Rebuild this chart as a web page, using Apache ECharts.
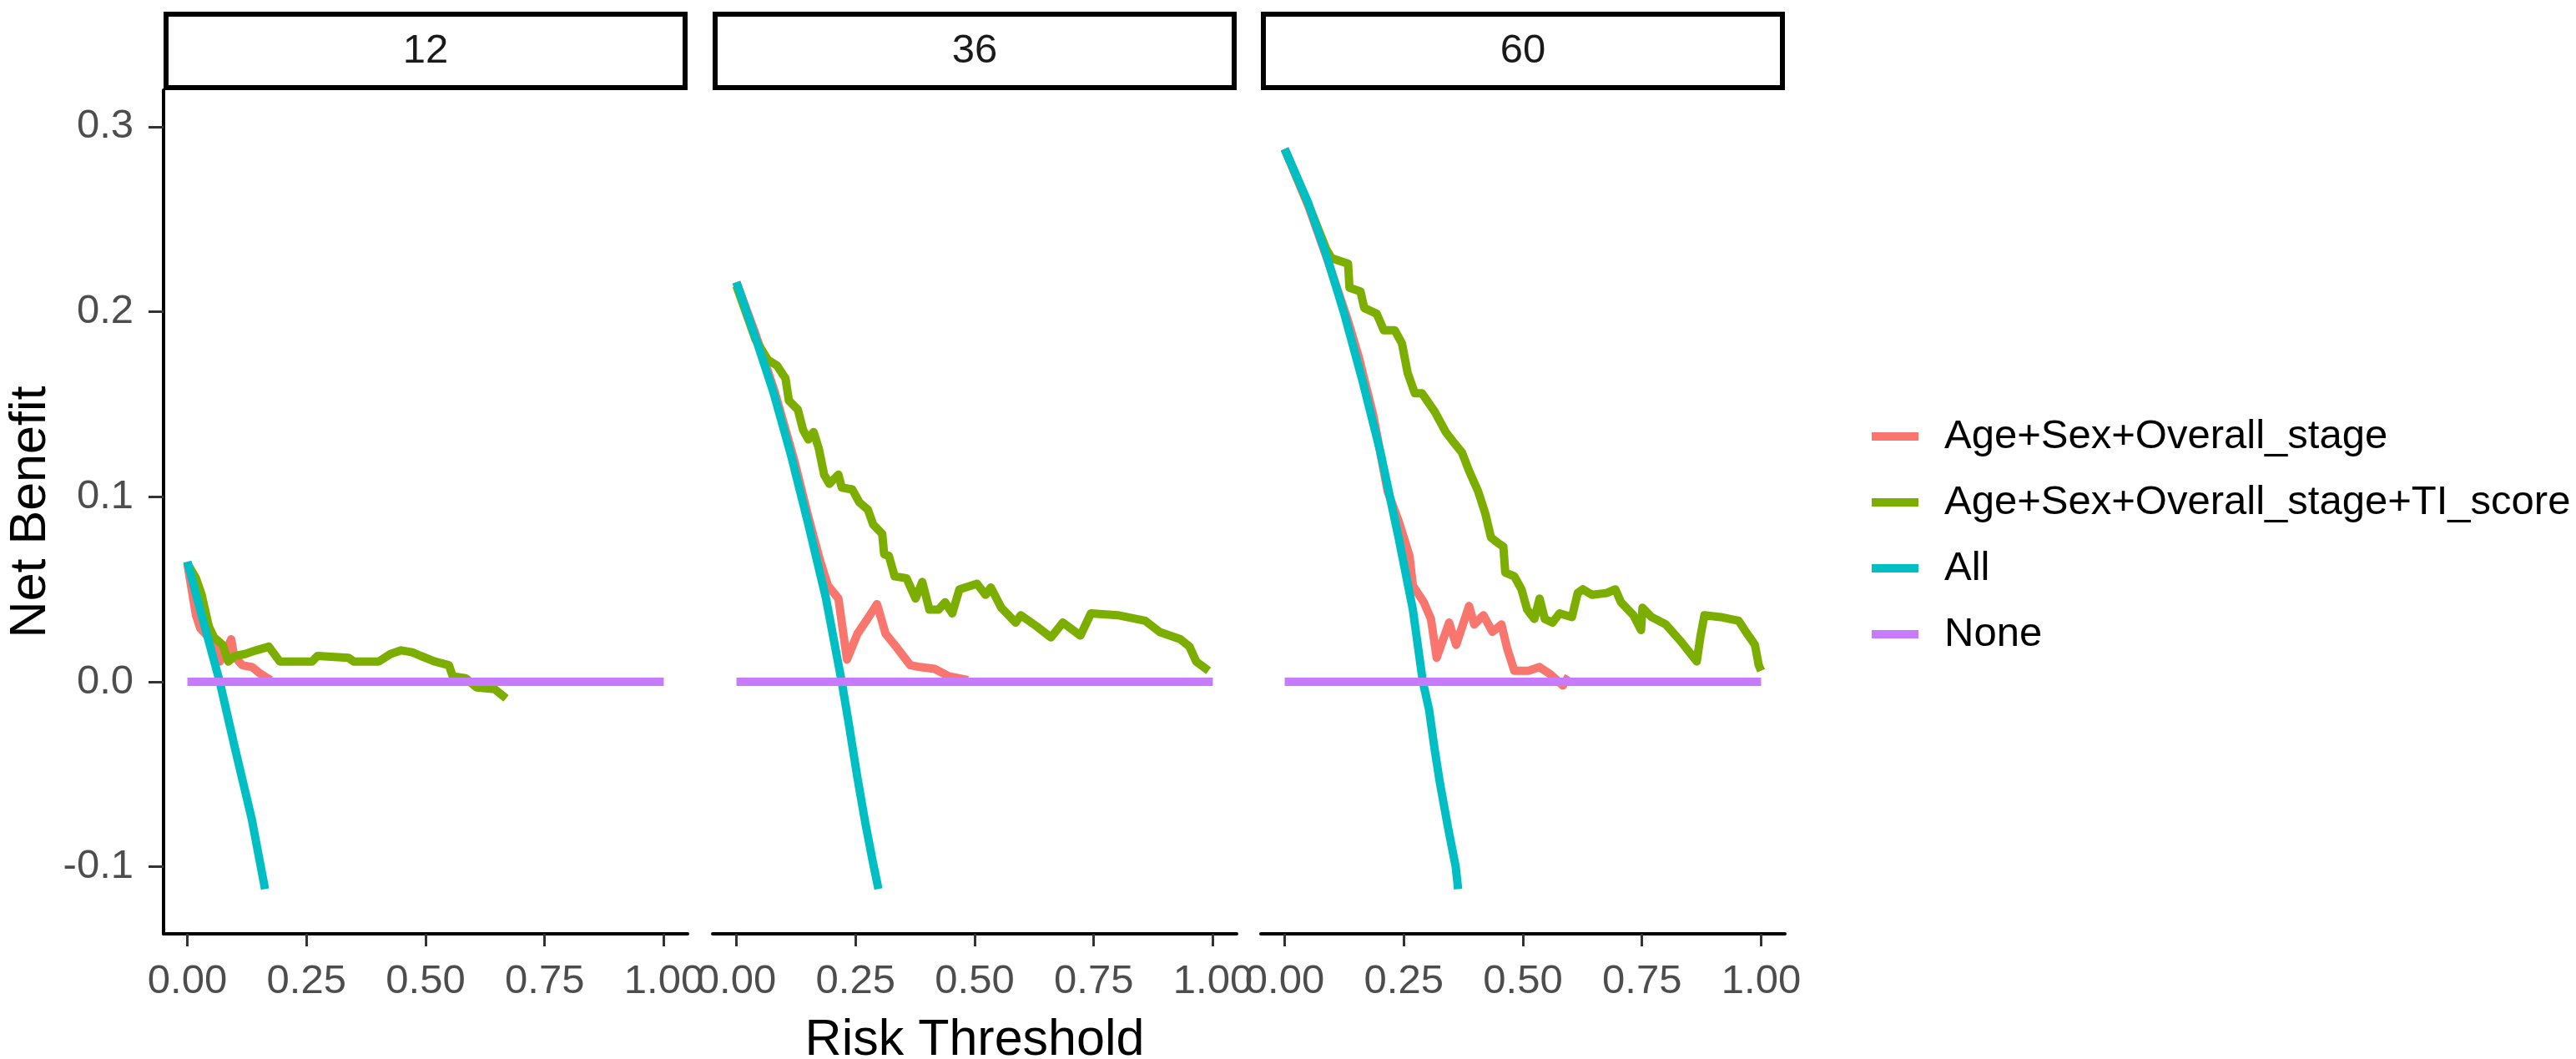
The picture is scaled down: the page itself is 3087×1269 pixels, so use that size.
<!DOCTYPE html>
<html>
<head>
<meta charset="utf-8">
<title>Decision curves</title>
<script src="https://cdn.jsdelivr.net/npm/echarts@6.0.0/dist/echarts.min.js"></script>
<style>
  html, body { margin: 0; padding: 0; background: #fff; }
  #main { width: 3087px; height: 1269px; }
</style>
</head>
<body>
<div id="main"></div>
<script>
// ---- data (risk threshold, net benefit) ----
var timePoints = ['12', '36', '60'];
var seriesNames = ['Age+Sex+Overall_stage', 'Age+Sex+Overall_stage+TI_score', 'All', 'None'];
var seriesColors = ['#F8766D', '#7CAE00', '#00BFC4', '#C77CFF'];
var xTicks = [0, 0.25, 0.5, 0.75, 1];
var yTicks = [-0.1, 0, 0.1, 0.2, 0.3];

// 12 months
var base12 = [[0, 0.064], [0.018, 0.036], [0.027, 0.029], [0.045, 0.024], [0.059, 0.020], [0.068, 0.011],
  [0.08, 0.016], [0.092, 0.023], [0.098, 0.014], [0.115, 0.009], [0.136, 0.008], [0.150, 0.005], [0.168, 0.002], [0.175, 0.001]];
var full12 = [[0, 0.064], [0.018, 0.056], [0.030, 0.047], [0.045, 0.030], [0.056, 0.024], [0.074, 0.020], [0.086, 0.011],
  [0.100, 0.014], [0.121, 0.015], [0.144, 0.017], [0.171, 0.019], [0.194, 0.011], [0.215, 0.011], [0.262, 0.011],
  [0.273, 0.014], [0.338, 0.013], [0.349, 0.011], [0.402, 0.011], [0.426, 0.015], [0.449, 0.017], [0.472, 0.016],
  [0.490, 0.014], [0.519, 0.011], [0.549, 0.009], [0.557, 0.003], [0.584, 0.002], [0.607, -0.003], [0.645, -0.004], [0.669, -0.009]];
var all12 = [[0, 0.065], [0.03, 0.036], [0.068, 0], [0.10, -0.036], [0.135, -0.074], [0.163, -0.112]];

// 36 months
var base36 = [[0, 0.216], [0.04, 0.188], [0.08, 0.157], [0.12, 0.121], [0.15, 0.090], [0.175, 0.066], [0.192, 0.052],
  [0.214, 0.045], [0.232, 0.012], [0.254, 0.026], [0.275, 0.034], [0.295, 0.042], [0.313, 0.026], [0.335, 0.019],
  [0.365, 0.009], [0.385, 0.008], [0.416, 0.007], [0.446, 0.003], [0.486, 0.001]];
var full36 = [[0, 0.214], [0.04, 0.185], [0.066, 0.174], [0.085, 0.171], [0.103, 0.164], [0.11, 0.152], [0.129, 0.147],
  [0.14, 0.136], [0.151, 0.131], [0.162, 0.135], [0.173, 0.126], [0.184, 0.112], [0.195, 0.107], [0.214, 0.112],
  [0.221, 0.105], [0.243, 0.104], [0.258, 0.097], [0.276, 0.093], [0.287, 0.085], [0.306, 0.080], [0.31, 0.069],
  [0.32, 0.068], [0.332, 0.057], [0.357, 0.056], [0.376, 0.045], [0.39, 0.054], [0.405, 0.039], [0.424, 0.039],
  [0.438, 0.043], [0.453, 0.037], [0.468, 0.050], [0.505, 0.053], [0.523, 0.047], [0.534, 0.051], [0.556, 0.040],
  [0.586, 0.032], [0.597, 0.036], [0.63, 0.030], [0.66, 0.024], [0.685, 0.032], [0.722, 0.025], [0.744, 0.037],
  [0.80, 0.036], [0.858, 0.033], [0.888, 0.027], [0.932, 0.023], [0.951, 0.019], [0.965, 0.011], [0.991, 0.006]];
var all36 = [[0, 0.216], [0.04, 0.186], [0.077, 0.157], [0.114, 0.123], [0.151, 0.085], [0.188, 0.045], [0.221, 0],
  [0.236, -0.023], [0.254, -0.052], [0.271, -0.077], [0.286, -0.097], [0.298, -0.112]];

// 60 months
var base60 = [[0, 0.288], [0.05, 0.257], [0.09, 0.228], [0.133, 0.195], [0.155, 0.176], [0.186, 0.144], [0.216, 0.103],
  [0.239, 0.087], [0.262, 0.068], [0.269, 0.052], [0.292, 0.043], [0.307, 0.034], [0.319, 0.013], [0.345, 0.032],
  [0.36, 0.020], [0.387, 0.041], [0.398, 0.031], [0.417, 0.036], [0.436, 0.027], [0.455, 0.031], [0.467, 0.018],
  [0.482, 0.006], [0.512, 0.006], [0.535, 0.008], [0.558, 0.004], [0.584, -0.002], [0.596, 0.003]];
var full60 = [[0, 0.288], [0.05, 0.258], [0.087, 0.234], [0.098, 0.229], [0.133, 0.226], [0.136, 0.213], [0.159, 0.211],
  [0.167, 0.202], [0.193, 0.199], [0.208, 0.190], [0.231, 0.190], [0.246, 0.183], [0.258, 0.167], [0.273, 0.156],
  [0.288, 0.156], [0.315, 0.146], [0.338, 0.135], [0.353, 0.130], [0.372, 0.124], [0.387, 0.114], [0.406, 0.103],
  [0.421, 0.091], [0.433, 0.078], [0.448, 0.075], [0.459, 0.073], [0.463, 0.059], [0.482, 0.057], [0.497, 0.050],
  [0.509, 0.039], [0.524, 0.034], [0.535, 0.045], [0.546, 0.034], [0.562, 0.032], [0.577, 0.037], [0.603, 0.035],
  [0.615, 0.048], [0.626, 0.050], [0.645, 0.047], [0.676, 0.048], [0.694, 0.050], [0.706, 0.043], [0.732, 0.036],
  [0.748, 0.028], [0.751, 0.040], [0.77, 0.035], [0.80, 0.031], [0.831, 0.022], [0.865, 0.011], [0.873, 0.025],
  [0.881, 0.036], [0.915, 0.035], [0.953, 0.033], [0.968, 0.027], [0.987, 0.020], [0.995, 0.009], [1.0, 0.006]];
var all60 = [[0, 0.288], [0.049, 0.259], [0.087, 0.231], [0.125, 0.199], [0.163, 0.163], [0.201, 0.124], [0.239, 0.078],
  [0.269, 0.039], [0.29, 0], [0.303, -0.015], [0.315, -0.037], [0.326, -0.055], [0.343, -0.079], [0.359, -0.100], [0.364, -0.112]];

var noneLine = [[0, 0], [1, 0]];

var panelData = [
  [base12, full12, all12, noneLine],
  [base36, full36, all36, noneLine],
  [base60, full60, all60, noneLine]
];

// ---- layout ----
var panelLeft = [196, 854, 1511];
var panelWidth = 628;
var gridTop = 108;
var gridHeight = 1011;
var stripTop = 14;
var font = 'Liberation Sans, Arial, sans-serif';

var myChart = echarts.init(document.getElementById('main'));

var grids = [], xAxes = [], yAxes = [], series = [], graphics = [];

for (var i = 0; i < 3; i++) {
    grids.push({
        left: panelLeft[i], top: gridTop, width: panelWidth, height: gridHeight,
        containLabel: false, outerBoundsMode: 'none'
    });
    xAxes.push({
        type: 'value', gridIndex: i, min: -0.05, max: 1.05,
        name: i === 1 ? 'Risk Threshold' : '',
        nameLocation: 'middle', nameGap: 98,
        nameTextStyle: { fontSize: 61, color: '#000', fontFamily: font },
        splitLine: { show: false },
        axisLine: { show: true, onZero: false, lineStyle: { color: '#000', width: 4 } },
        axisTick: { show: true, length: 15, customValues: xTicks, lineStyle: { color: '#333', width: 3 } },
        axisLabel: {
            customValues: xTicks, margin: 33, fontSize: 49, color: '#4d4d4d', fontFamily: font,
            formatter: function (v) { return v.toFixed(2); }
        }
    });
    yAxes.push({
        type: 'value', gridIndex: i, min: -0.1362, max: 0.3198,
        show: i === 0,
        name: i === 0 ? 'Net Benefit' : '',
        nameLocation: 'middle', nameGap: 128,
        nameTextStyle: { fontSize: 61, color: '#000', fontFamily: font },
        splitLine: { show: false },
        axisLine: { show: true, onZero: false, lineStyle: { color: '#000', width: 4 } },
        axisTick: { show: true, length: 18, customValues: yTicks, lineStyle: { color: '#333', width: 3 } },
        axisLabel: {
            customValues: yTicks, margin: 36, fontSize: 49, color: '#4d4d4d', fontFamily: font,
            formatter: function (v) { return v.toFixed(1); }
        }
    });
    for (var k = 0; k < 4; k++) {
        series.push({
            name: seriesNames[k], type: 'line', xAxisIndex: i, yAxisIndex: i,
            data: panelData[i][k], symbol: 'none', showSymbol: false,
            color: seriesColors[k],
            lineStyle: { width: 10, color: seriesColors[k], join: 'round', cap: 'butt' },
            z: 2 + k, animation: false
        });
    }
    // facet strip
    graphics.push({
        type: 'rect',
        shape: { x: panelLeft[i] + 3, y: stripTop + 3, width: panelWidth - 6, height: gridTop - stripTop - 6 },
        style: { fill: '#fff', stroke: '#000', lineWidth: 6 }
    });
    graphics.push({
        type: 'text',
        x: panelLeft[i] + panelWidth / 2, y: (stripTop + gridTop) / 2,
        style: {
            text: timePoints[i], fontSize: 49, fontFamily: font, fill: '#1a1a1a',
            textAlign: 'center', textVerticalAlign: 'middle'
        }
    });
}

var option = {
    backgroundColor: '#fff',
    animation: false,
    grid: grids,
    xAxis: xAxes,
    yAxis: yAxes,
    legend: {
        data: seriesNames,
        orient: 'vertical',
        left: 2238, top: 493,
        icon: 'rect',
        itemWidth: 56, itemHeight: 10, itemGap: 29,
        textStyle: { fontSize: 49, lineHeight: 50, color: '#000', fontFamily: font, padding: [0, 0, 0, 26] }
    },
    graphic: graphics,
    series: series
};

myChart.setOption(option);

window.onresize = function () {
    myChart.resize();
};
</script>
</body>
</html>
